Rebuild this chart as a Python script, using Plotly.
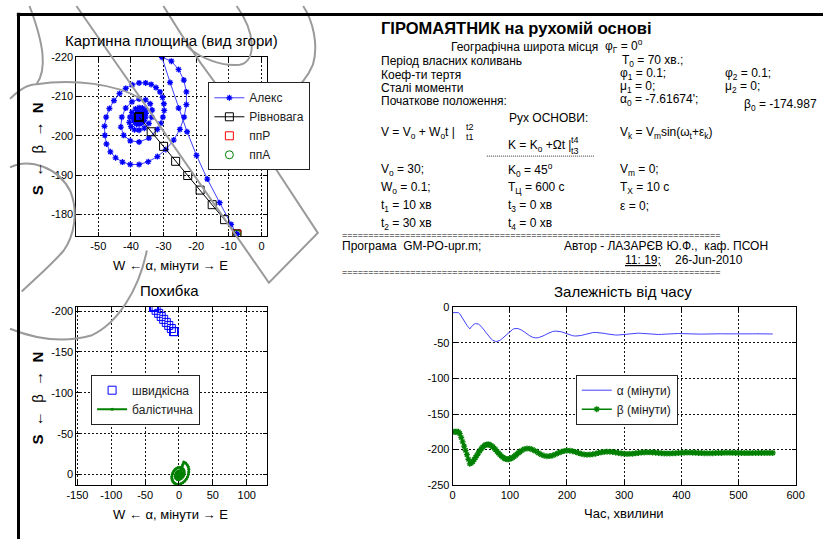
import numpy as np
import plotly.graph_objects as go

W, H = 832, 545


def px(x):
    return x / W


def py(y):
    return 1 - y / H


# ---------------- data (time in minutes, angles in arc-minutes) ----------------
t_min = [0, 2.5, 5, 7.5, 10, 12.5, 15, 17.5, 20, 22.5, 25, 27.5, 30, 32.5, 35, 37.5,
         40, 42.5, 45, 47.5, 50, 52.5, 55, 57.5, 60, 62.5, 65, 67.5, 70, 72.5, 75, 77.5,
         80, 82.5, 85, 87.5, 90, 92.5, 95, 97.5, 100, 102.5, 105, 107.5, 110, 112.5, 115,
         117.5, 120, 125, 130, 135, 140, 145, 150, 155, 160, 165, 170, 175, 180, 185, 190,
         195, 200, 205, 210, 215, 220, 225, 230, 235, 240, 245, 250, 255, 260, 265, 270,
         275, 280, 285, 290, 295, 300, 305, 310, 315, 320, 325, 330, 335, 340, 345, 350,
         355, 360, 365, 370, 375, 380, 385, 390, 395, 400, 405, 410, 415, 420, 425, 430,
         435, 440, 445, 450, 455, 460, 465, 470, 475, 480, 485, 490, 495, 500, 505, 510,
         515, 520, 525, 530, 535, 540, 545, 550, 555, 560]

alpha = [-7.6, -7.6, -7.6, -7.6, -7.6, -9.3, -12.8, -16.6, -19.9, -22.8, -25.4, -28.0,
         -30.5, -27.6, -25.4, -23.8, -23.0, -23.0, -23.7, -25.0, -26.9, -29.3, -31.9,
         -34.7, -37.5, -40.2, -42.6, -44.7, -46.3, -47.5, -48.0, -48.1, -47.6, -46.6,
         -45.2, -43.5, -41.6, -39.6, -37.5, -35.5, -33.8, -32.3, -31.1, -30.3, -29.9,
         -29.8, -30.2, -30.9, -31.9, -34.5, -37.5, -40.2, -42.2, -43.1, -42.8, -41.6,
         -39.7, -37.5, -35.5, -34.1, -33.5, -33.6, -34.5, -35.9, -37.5, -38.9, -40.0,
         -40.5, -40.3, -39.7, -38.6, -37.5, -36.5, -35.7, -35.4, -35.5, -35.9, -36.7,
         -37.5, -38.3, -38.8, -39.1, -39.0, -38.6, -38.1, -37.5, -37.0, -36.6, -36.4,
         -36.4, -36.7, -37.1, -37.5, -37.9, -38.2, -38.3, -38.3, -38.1, -37.8, -37.5,
         -37.2, -37.0, -36.9, -36.9, -37.1, -37.3, -37.5, -37.7, -37.9, -37.9, -37.9,
         -37.8, -37.7, -37.5, -37.4, -37.2, -37.2, -37.2, -37.3, -37.4, -37.5, -37.6,
         -37.7, -37.7, -37.7, -37.7, -37.6, -37.5, -37.4, -37.4, -37.3, -37.3, -37.4,
         -37.4, -37.5, -37.6, -37.6]

beta = [-175.0, -175.0, -175.0, -175.0, -175.0, -177.5, -183.0, -189.0, -195.0, -201.0,
        -207.0, -213.5, -219.9, -218.9, -216.8, -214.1, -211.1, -207.9, -204.7, -201.6,
        -198.9, -196.5, -194.7, -193.4, -192.7, -192.7, -193.3, -194.4, -195.9, -197.9,
        -200.1, -202.4, -204.7, -206.9, -208.9, -210.7, -212.0, -212.9, -213.4, -213.4,
        -213.0, -212.2, -211.1, -209.7, -208.1, -206.4, -204.7, -203.1, -201.6, -199.4,
        -198.4, -198.7, -200.1, -202.2, -204.7, -207.0, -208.6, -209.3, -209.1, -208.1,
        -206.5, -204.7, -203.1, -201.9, -201.4, -201.5, -202.3, -203.4, -204.7, -205.9,
        -206.8, -207.1, -207.0, -206.5, -205.7, -204.7, -203.8, -203.2, -202.9, -203.0,
        -203.4, -204.0, -204.7, -205.3, -205.8, -206.0, -205.9, -205.7, -205.2, -204.7,
        -204.2, -203.9, -203.8, -203.8, -204.0, -204.3, -204.7, -205.0, -205.3, -205.4,
        -205.4, -205.2, -205.0, -204.7, -204.5, -204.3, -204.2, -204.2, -204.3, -204.5,
        -204.7, -204.9, -205.0, -205.1, -205.1, -205.0, -204.8, -204.7, -204.6, -204.5,
        -204.4, -204.5, -204.5, -204.6, -204.7, -204.8, -204.9, -204.9, -204.9, -204.8,
        -204.8, -204.7, -204.6, -204.6, -204.6, -204.6, -204.6]

# equilibrium position: at rest, shifting while the base accelerates, then settled
eq_alpha = [-7.6] * 5 + [-11.3, -15.1, -18.8, -22.6, -26.3, -30.0, -33.8] + [-37.5] * 125
eq_beta = [-175.0] * 5 + [-178.7, -182.5, -186.2, -189.9, -193.5, -197.3, -201.0] + [-204.7] * 125

# ballistic error = pendulum position relative to the equilibrium
ball_alpha = (np.array(alpha) - np.array(eq_alpha)).tolist()
ball_beta = (np.array(beta) - np.array(eq_beta)).tolist()

# tick values of the three axes pairs
plan_xticks = [-50, -40, -30, -20, -10, 0]
plan_yticks = [-220, -210, -200, -190, -180]
err_xticks = [-150, -100, -50, 0, 50, 100]
err_yticks = [-200, -150, -100, -50, 0]
time_xticks = [0, 100, 200, 300, 400, 500, 600]
time_yticks = [-250, -200, -150, -100, -50, 0]

BLUE = "#0000ff"
GREEN = "#008000"

fig = go.Figure()

# ---- plan view ----
fig.add_trace(go.Scatter(
    x=alpha, y=beta, mode="lines+markers", name="Алекс", xaxis="x", yaxis="y",
    legend="legend", line=dict(color="#4040ff", width=1),
    marker=dict(symbol="asterisk-open", size=5, color=BLUE, line=dict(width=1.3, color=BLUE))))
fig.add_trace(go.Scatter(
    x=eq_alpha, y=eq_beta, mode="lines+markers", name="Рівновага", xaxis="x", yaxis="y",
    legend="legend", line=dict(color="black", width=1),
    marker=dict(symbol="square-open", size=8, color="black", line=dict(width=1, color="black"))))
fig.add_trace(go.Scatter(
    x=[eq_alpha[0]], y=[eq_beta[0]], mode="markers", name="ппР", xaxis="x", yaxis="y",
    legend="legend", marker=dict(symbol="square-open", size=8, color="red", line=dict(width=1, color="red"))))
fig.add_trace(go.Scatter(
    x=[alpha[0]], y=[beta[0]], mode="markers", name="ппА", xaxis="x", yaxis="y",
    legend="legend", marker=dict(symbol="circle-open", size=8, color=GREEN, line=dict(width=1, color=GREEN))))

# ---- error plot ----
fig.add_trace(go.Scatter(
    x=eq_alpha, y=eq_beta, mode="markers", name="швидкісна", xaxis="x2", yaxis="y2",
    legend="legend2", marker=dict(symbol="square-open", size=8, color=BLUE, line=dict(width=1, color=BLUE))))
fig.add_trace(go.Scatter(
    x=ball_alpha, y=ball_beta, mode="lines+markers", name="балістична", xaxis="x2", yaxis="y2",
    legend="legend2", line=dict(color=GREEN, width=2),
    marker=dict(symbol="circle", size=3, color=GREEN)))

# ---- time plot ----
fig.add_trace(go.Scatter(
    x=t_min, y=alpha, mode="lines", name="α (мінути)", xaxis="x3", yaxis="y3",
    legend="legend3", line=dict(color="#4040ff", width=1)))
fig.add_trace(go.Scatter(
    x=t_min, y=beta, mode="lines+markers", name="β (мінути)", xaxis="x3", yaxis="y3",
    legend="legend3", line=dict(color=GREEN, width=1.5),
    marker=dict(symbol="asterisk-open", size=5, color=GREEN, line=dict(width=1.3, color=GREEN))))

axis_style = dict(
    showline=True, linecolor="black", linewidth=1, mirror="allticks",
    ticks="inside", ticklen=4, tickcolor="black", tickwidth=1,
    showgrid=True, gridcolor="#111111", gridwidth=1, griddash="2px,2px",
    zeroline=False, tickfont=dict(family="Arial", size=11, color="black"),
    fixedrange=True,
)


def ticks(vals):
    # plain hyphen-minus labels
    return dict(tickvals=vals, ticktext=[str(v) for v in vals])


legend_style = dict(
    bgcolor="white", bordercolor="#222222", borderwidth=1,
    font=dict(family="Arial", size=12, color="#222222"),
    xanchor="left", yanchor="top", tracegroupgap=0, itemwidth=30,
)

fig.update_layout(
    width=W, height=H, margin=dict(l=0, r=0, t=0, b=0),
    paper_bgcolor="white", plot_bgcolor="white",
    font=dict(family="Arial", size=12, color="black"),
    xaxis=dict(domain=[px(68), px(263)], anchor="y", range=[-56.7, 1.7],
               **ticks(plan_xticks), **axis_style),
    yaxis=dict(domain=[py(235), py(52)], anchor="x", range=[-174.6, -220],
               **ticks(plan_yticks), **axis_style),
    xaxis2=dict(domain=[px(68), px(263)], anchor="y2", range=[-151.5, 130],
                **ticks(err_xticks), **axis_style),
    yaxis2=dict(domain=[py(490), py(308)], anchor="x2", range=[13.1, -204.8],
                **ticks(err_yticks), **axis_style),
    xaxis3=dict(domain=[px(453), px(804)], anchor="y3", range=[0, 600],
                **ticks(time_xticks), **axis_style),
    yaxis3=dict(domain=[py(490), py(308)], anchor="x3", range=[-250, 0],
                **ticks(time_yticks), **axis_style),
    legend=dict(x=px(203), y=py(78), **legend_style),
    legend2=dict(x=px(83), y=py(377), **legend_style),
    legend3=dict(x=px(579), y=py(377), **legend_style),
    showlegend=True,
)

ann = []


def text(x, y, s, size=12, anchor="left", bold=False, angle=0, color="black"):
    # annotations carry a small inner padding; shift left-anchored ones to compensate
    xx = x - 3 if anchor == "left" else x
    ann.append(dict(
        x=px(xx), y=py(y), xref="paper", yref="paper", text=f"<b>{s}</b>" if bold else s,
        showarrow=False, xanchor=anchor, yanchor="middle", textangle=angle,
        font=dict(family="Arial", size=size, color=color)))


NB = "\u00a0"

# plot titles and axis labels
text(165, 35, "Картинна площина (вид згори)", 15, "center")
text(163, 291, "Похибка", 15, "center")
text(627, 292, "Залежність від часу", 15, "center")
text(164, 265, f"W{NB}←{NB}α, мінути{NB}→{NB}E", 13, "center")
text(164, 520, f"W{NB}←{NB}α, мінути{NB}→{NB}E", 13, "center")
text(628, 519, "Час, хвилини", 13, "center")
ylab = f"<b>S</b>{NB}{NB}←{NB}{NB}β{NB}{NB}→{NB}{NB}<b>N</b>"
text(28, 146, ylab, 15, "center", angle=-90)
text(28, 401, ylab, 15, "center", angle=-90)

# information panel
text(381, 23, "ГІРОМАЯТНИК на рухомій основі", 16.5, bold=True)
text(452, 42, "Географічна широта місця")
text(610, 41, "φ<sub>Г</sub> = 0<sup>o</sup>")
text(381, 56, "Період власних коливань")
text(627, 56, "T<sub>0</sub> = 70 хв.;")
text(381, 71, "Коеф-ти тертя")
text(625, 70, "φ<sub>1</sub> = 0.1;")
text(733, 70, "φ<sub>2</sub> = 0.1;")
text(381, 84, "Сталі моменти")
text(625, 83, "μ<sub>1</sub> = 0;")
text(733, 83, "μ<sub>2</sub> = 0;")
text(381, 97, "Початкове положення:")
text(625, 96, "α<sub>0</sub> = -7.61674';")
text(752, 101, "β<sub>0</sub> = -174.987")
text(512, 115, "Рух ОСНОВИ:")
text(381, 130, "V = V<sub>o</sub> + W<sub>o</sub>t |")
text(468, 124, "t2", 9)
text(468, 134, "t1", 9)
text(625, 130, "V<sub>k</sub> = V<sub>m</sub>sin(ω<sub>t</sub>+ε<sub>k</sub>)")
text(511, 143, "K = K<sub>o</sub> +Ωt |")
text(575, 137, "t4", 9)
text(575, 148, "t3", 9)
text(381, 168, "V<sub>o</sub> = 30;")
text(381, 186, "W<sub>o</sub> = 0.1;")
text(381, 205, "t<sub>1</sub> = 10 хв")
text(381, 223, "t<sub>2</sub> = 30 хв")
text(511, 168, "K<sub>0</sub> = 45<sup>o</sup>")
text(511, 186, "T<sub>Ц</sub> = 600 с")
text(511, 205, "t<sub>3</sub> = 0 хв")
text(511, 223, "t<sub>4</sub> = 0 хв")
text(625, 168, "V<sub>m</sub> = 0;")
text(625, 186, "T<sub>X</sub> = 10 с")
text(625, 205, "ε = 0;")
text(341, 234, "=" * 72, 9)
text(341, 245, "Програма  GM-PO-upr.m;")
text(568, 245, "Автор - ЛАЗАРЄВ Ю.Ф.,  каф. ПСОН")
text(630, 260, "<span style='text-decoration:underline'>11: 19;</span>")
text(681, 260, "26-Jun-2010")
text(341, 272, "=" * 72, 9)

fig.update_layout(annotations=ann)


def path(cmds):
    # build an SVG path in paper units from pixel-space commands
    out = []
    for c in cmds:
        if isinstance(c, str):
            out.append(c)
        else:
            out.append(f"{px(c[0]):.4f},{py(c[1]):.4f}")
    return " ".join(out)


WM = dict(color="#9a9a9a", width=2)
watermark = [
    ["M", (68, 0), "L", (265, 283), "L", (315, 232), "L", (240, 118),
     "Q", (192, 58), (157, 0)],
    ["M", (180, 40), "C", (195, 55), (220, 62), (235, 60), "C", (252, 57), (252, 28), (232, 0)],
    ["M", (238, 118), "C", (270, 106), (300, 85), (310, 60), "C", (316, 40), (310, 15), (300, 0)],
    ["M", (20, 0), "C", (35, 40), (38, 65), (27, 80)],
    ["M", (0, 95), "C", (10, 85), (18, 80), (27, 80), "C", (65, 74), (110, 80), (134, 95)],
    ["M", (140, 250), "C", (132, 290), (110, 325), (83, 337), "C", (55, 345), (25, 340), (0, 330)],
    ["M", (0, 165), "C", (20, 155), (50, 165), (62, 190), "C", (70, 210), (66, 235), (55, 250),
     "C", (45, 262), (30, 275), (12, 292)],
]

shapes = [
    dict(type="path", xref="paper", yref="paper", path=path(p), line=WM, layer="above")
    for p in watermark
]
shapes += [
    # window frame edges
    dict(type="line", xref="paper", yref="paper", x0=px(7), x1=1, y0=py(8.7), y1=py(8.7),
         line=dict(color="black", width=3)),
    dict(type="line", xref="paper", yref="paper", x0=px(8.7), x1=px(8.7), y0=py(7), y1=0,
         line=dict(color="black", width=3)),
    # dotted rule under the course formula
    dict(type="line", xref="paper", yref="paper", x0=px(488), x1=px(598), y0=py(153.5), y1=py(153.5),
         line=dict(color="#333333", width=1, dash="1px,1px")),
]
fig.update_layout(shapes=shapes)

fig.write_html("out.html")
